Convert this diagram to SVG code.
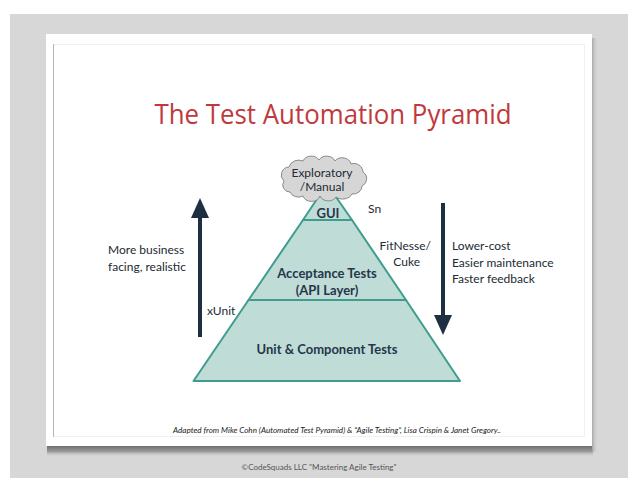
<svg xmlns="http://www.w3.org/2000/svg" width="638" height="493" viewBox="0 0 638 493">
  <defs>
    <linearGradient id="bottomShade" x1="0" y1="0" x2="0" y2="1">
      <stop offset="0" stop-color="#6f6f6f"/>
      <stop offset="0.5" stop-color="#9a9a9a"/>
      <stop offset="1" stop-color="#d6d6d6" stop-opacity="0"/>
    </linearGradient>
    <linearGradient id="sideShade" x1="0" y1="0" x2="1" y2="0">
      <stop offset="0" stop-color="#a8a8a8"/>
      <stop offset="1" stop-color="#d6d6d6" stop-opacity="0"/>
    </linearGradient>
    <marker id="head" viewBox="0 0 20 18" refX="2" refY="9" markerWidth="20" markerHeight="18" orient="auto" markerUnits="userSpaceOnUse">
      <path d="M0,0 L20,9 L0,18 Z" fill="#1d2f41"/>
    </marker>
    <style>
      .txt { font-family: "Lato", "Open Sans", "DejaVu Sans", sans-serif; fill: #222a33; font-size: 12px; }
      .layer { font-family: "Lato", "Open Sans", "DejaVu Sans", sans-serif; fill: #26364a; font-weight: bold; font-size: 13px; text-anchor: middle; }
      .tier { fill: #bfdcd6; stroke: #3f9c8f; stroke-width: 2; stroke-linejoin: round; }
      .arrow { stroke: #1d2f41; stroke-width: 4; fill: none; }
    </style>
  </defs>

  <!-- background mat -->
  <rect x="0" y="0" width="638" height="493" fill="#ffffff"/>
  <rect x="10" y="14" width="618" height="464" fill="#d7d7d7"/>
  <!-- paper shadow -->
  <rect x="47" y="446" width="546" height="11" fill="url(#bottomShade)"/>
  <rect x="592" y="38" width="6" height="414" fill="url(#sideShade)"/>
  <!-- paper sheet -->
  <rect x="46" y="34" width="546" height="412" fill="#ffffff"/>
  <rect x="53.5" y="44.5" width="531" height="392" fill="none" stroke="#f0f0f0" stroke-width="1"/>
  <line x1="53.5" y1="44" x2="53.5" y2="437" stroke="#b5b5b5" stroke-width="1"/>

  <!-- title -->
  <text x="333" y="124" font-family="'Open Sans', 'Liberation Sans', sans-serif" font-size="27" fill="#c0393d" text-anchor="middle" textLength="357" lengthAdjust="spacingAndGlyphs">The Test Automation Pyramid</text>

  <!-- pyramid tiers -->
  <g id="unit-tier">
    <polygon class="tier" points="248.5,300 406,300 460,381 193.5,381"/>
    <text class="layer" x="327" y="354">Unit &amp; Component Tests</text>
  </g>
  <g id="acceptance-tier">
    <polygon class="tier" points="303,220 352,220 406,300 248.5,300"/>
    <text class="layer" x="327" y="278">Acceptance Tests</text>
    <text class="layer" x="327" y="295">(API Layer)</text>
  </g>
  <g id="gui-tier">
    <polygon class="tier" points="327,184 352,220 303,220"/>
    <text class="layer" x="328" y="218">GUI</text>
  </g>
  <g id="exploratory-cloud">
    <path d="M284,181 A8,8 0 0 1 289,167 A10,9 0 0 1 303,161 A9,8 0 0 1 319,160 A9,8 0 0 1 335,161 A9,8 0 0 1 351,164 A9,9 0 0 1 363,172 A8,8 0 0 1 362,186 A9,8 0 0 1 352,194 A10,8 0 0 1 336,197 A9,8 0 0 1 320,196 A9,8 0 0 1 303,196 A9,8 0 0 1 290,192 A7,7 0 0 1 284,181 Z" fill="#d6d6d6" stroke="#8a8a8a" stroke-width="1"/>
    <text class="txt" x="322" y="177" font-size="10.5" text-anchor="middle">Exploratory</text>
    <text class="txt" x="322" y="191" font-size="10.5" text-anchor="middle">/Manual</text>
  </g>

  <!-- side arrows -->
  <g id="connectors">
    <line class="arrow" x1="200" y1="337" x2="200" y2="216" marker-end="url(#head)"/>
    <line class="arrow" x1="443" y1="203" x2="443" y2="317" marker-end="url(#head)"/>
  </g>

  <!-- side labels -->
  <g id="left-label">
    <text class="txt" x="108" y="254">More business</text>
    <text class="txt" x="108" y="271">facing, realistic</text>
  </g>
  <g id="right-label">
    <text class="txt" x="452" y="250">Lower-cost</text>
    <text class="txt" x="452" y="267">Easier maintenance</text>
    <text class="txt" x="452" y="283">Faster feedback</text>
  </g>
  <g id="tool-labels">
    <text class="txt" x="368" y="213">Sn</text>
    <text class="txt" x="431" y="250" text-anchor="end">FitNesse/</text>
    <text class="txt" x="420" y="266" text-anchor="end">Cuke</text>
    <text class="txt" x="207" y="315">xUnit</text>
  </g>

  <!-- credits -->
  <text x="337" y="433" font-family="'Lato', 'Open Sans', sans-serif" font-style="italic" font-size="8.5" fill="#222" text-anchor="middle" textLength="328" lengthAdjust="spacingAndGlyphs">Adapted from Mike Cohn (Automated Test Pyramid) &amp; “Agile Testing”, Lisa Crispin &amp; Janet Gregory..</text>
  <text x="319" y="470" font-family="'Lato', 'Open Sans', sans-serif" font-size="8" fill="#555" text-anchor="middle">©CodeSquads LLC "Mastering Agile Testing"</text>
</svg>
